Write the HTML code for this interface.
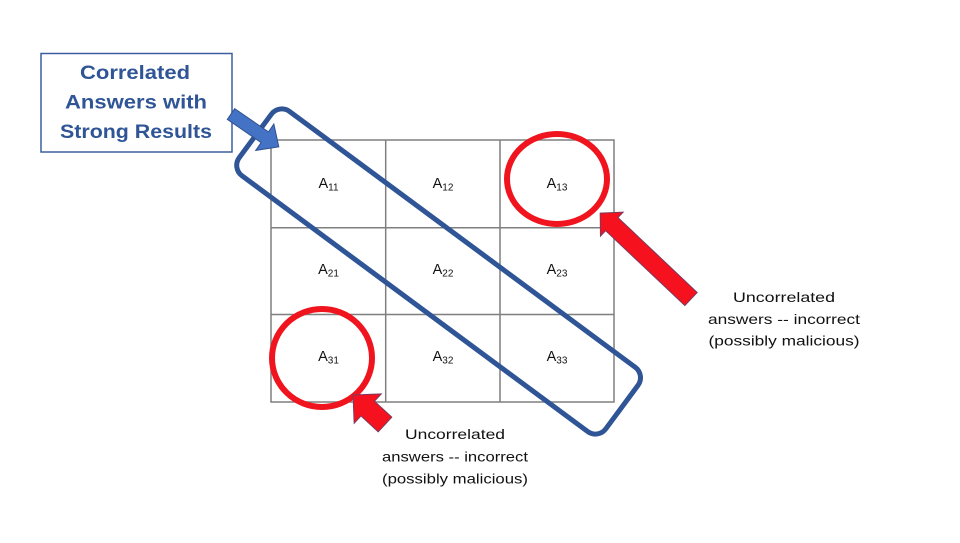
<!DOCTYPE html>
<html>
<head>
<meta charset="utf-8">
<style>
  html, body { margin: 0; padding: 0; background: #ffffff; }
  svg { display: block; }
  text { font-family: "Liberation Sans", Arial, sans-serif; }
</style>
</head>
<body>
<svg width="960" height="543" viewBox="0 0 960 543" xmlns="http://www.w3.org/2000/svg">
  <rect x="0" y="0" width="960" height="543" fill="#ffffff"/>

  <!-- Top-left label box -->
  <rect x="41" y="53.5" width="191" height="98.5" fill="#ffffff" stroke="#3b5ea0" stroke-width="1.5"/>
  <g fill="#2f5597" font-weight="bold" font-size="19.5" text-anchor="middle">
    <text x="135" y="79" textLength="110" lengthAdjust="spacingAndGlyphs">Correlated</text>
    <text x="136" y="108.5" textLength="142" lengthAdjust="spacingAndGlyphs">Answers with</text>
    <text x="136" y="138" textLength="152" lengthAdjust="spacingAndGlyphs">Strong Results</text>
  </g>

  <!-- Grid -->
  <g stroke="#7f7f7f" stroke-width="1.5" fill="none">
    <rect x="271" y="140" width="343" height="262"/>
    <line x1="385.7" y1="140" x2="385.7" y2="402"/>
    <line x1="500" y1="140" x2="500" y2="402"/>
    <line x1="271" y1="227.7" x2="614" y2="227.7"/>
    <line x1="271" y1="314.5" x2="614" y2="314.5"/>
  </g>

  <!-- Cell labels -->
  <g fill="#111111" font-size="14.5" text-anchor="middle">
    <text x="328.5" y="188">A<tspan font-size="10" dy="2.5">11</tspan></text>
    <text x="443" y="188">A<tspan font-size="10" dy="2.5">12</tspan></text>
    <text x="557" y="188">A<tspan font-size="10" dy="2.5">13</tspan></text>
    <text x="328.5" y="274">A<tspan font-size="10" dy="2.5">21</tspan></text>
    <text x="443" y="274">A<tspan font-size="10" dy="2.5">22</tspan></text>
    <text x="557" y="274">A<tspan font-size="10" dy="2.5">23</tspan></text>
    <text x="328.5" y="361">A<tspan font-size="10" dy="2.5">31</tspan></text>
    <text x="443" y="361">A<tspan font-size="10" dy="2.5">32</tspan></text>
    <text x="557" y="361">A<tspan font-size="10" dy="2.5">33</tspan></text>
  </g>

  <!-- Red circles -->
  <ellipse cx="557" cy="179" rx="50" ry="45" fill="none" stroke="#f0141e" stroke-width="6"/>
  <ellipse cx="322" cy="358" rx="50" ry="49" fill="none" stroke="#f0141e" stroke-width="6"/>

  <!-- Blue rotated rounded rectangle -->
  <g transform="translate(438.6,271.5) rotate(36.5)">
    <rect x="-228" y="-40" width="456" height="80" rx="13" ry="13" fill="none" stroke="#2f5597" stroke-width="5"/>
  </g>

  <!-- Blue block arrow -->
  <g transform="translate(231,114) rotate(34.5)">
    <polygon points="0,-6.5 41,-6.5 41,-16 58,0 41,16 41,6.5 0,6.5" fill="#4472c4" stroke="#2f528f" stroke-width="1"/>
  </g>

  <!-- Red block arrow (right) -->
  <g transform="translate(691,299) rotate(223.4)">
    <polygon points="0,-9 109,-9 109,-16.5 125,0 109,16.5 109,9 0,9" fill="#f5111e" stroke="#7a3a5e" stroke-width="1"/>
  </g>

  <!-- Red block arrow (bottom) -->
  <g transform="translate(385,424.5) rotate(222.7)">
    <polygon points="0,-10 23.5,-10 23.5,-20 43.5,0 23.5,20 23.5,10 0,10" fill="#f5111e" stroke="#7a3a5e" stroke-width="1"/>
  </g>

  <!-- Right caption -->
  <g fill="#111111" font-size="14" text-anchor="middle">
    <text x="784" y="302" textLength="102" lengthAdjust="spacingAndGlyphs">Uncorrelated</text>
    <text x="784" y="324" textLength="152" lengthAdjust="spacingAndGlyphs">answers -- incorrect</text>
    <text x="784" y="345.5" textLength="151" lengthAdjust="spacingAndGlyphs">(possibly malicious)</text>
  </g>

  <!-- Bottom caption -->
  <g fill="#111111" font-size="14" text-anchor="middle">
    <text x="455" y="439" textLength="100" lengthAdjust="spacingAndGlyphs">Uncorrelated</text>
    <text x="455" y="461.5" textLength="146" lengthAdjust="spacingAndGlyphs">answers -- incorrect</text>
    <text x="455" y="483.5" textLength="146" lengthAdjust="spacingAndGlyphs">(possibly malicious)</text>
  </g>
</svg>
</body>
</html>
